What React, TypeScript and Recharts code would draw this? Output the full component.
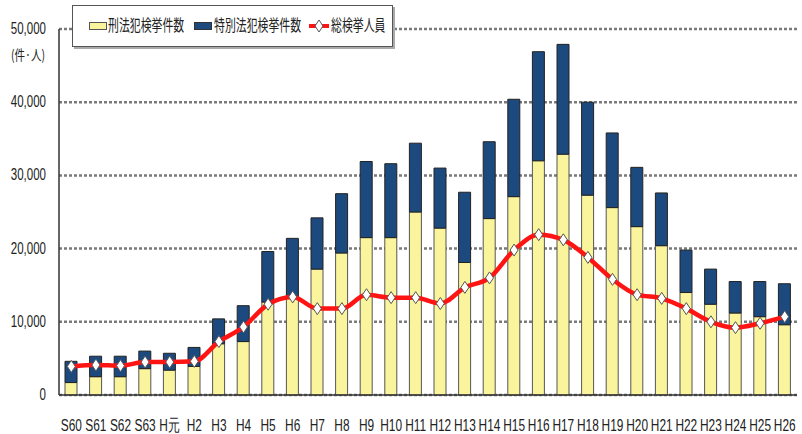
import React from "react";
import { ComposedChart, Bar, Line, XAxis, YAxis, CartesianGrid } from "recharts";

const years = [
  "S60", "S61", "S62", "S63", "H元", "H2", "H3", "H4", "H5", "H6",
  "H7", "H8", "H9", "H10", "H11", "H12", "H13", "H14", "H15", "H16",
  "H17", "H18", "H19", "H20", "H21", "H22", "H23", "H24", "H25", "H26",
];

// 刑法犯検挙件数
const penalCases = [
  1700, 2500, 2500, 3600, 3400, 3900, 7000, 7300, 12700, 13400,
  17200, 19400, 21500, 21500, 25000, 22800, 18100, 24100, 27100, 32000,
  32900, 27300, 25600, 23000, 20400, 14000, 12400, 11200, 10700, 9600,
];

// 特別法犯検挙件数
const specialCases = [
  2900, 2800, 2800, 2400, 2300, 2600, 3400, 4900, 6900, 8000,
  7000, 8100, 10400, 10100, 9400, 8200, 9600, 10500, 13300, 14900,
  15000, 12700, 10200, 8100, 7200, 5800, 4800, 4300, 4800, 5600,
];

// 総検挙人員
const persons = [
  3900, 4100, 4000, 4500, 4500, 4600, 7300, 9300, 12400, 13400,
  11800, 11800, 13700, 13300, 13300, 12500, 14700, 16000, 19800, 21900,
  21200, 18800, 15800, 13700, 13200, 11800, 10000, 9200, 9800, 10700,
];

const yTicks = [0, 10000, 20000, 30000, 40000, 50000];

const data = years.map((y, i) => ({
  year: y,
  penal: penalCases[i],
  special: specialCases[i],
  persons: persons[i],
}));

const YELLOW = "#FAF59C";
const NAVY = "#1D4A7E";
const RED = "#FF1414";
const numFont = "'Liberation Sans', 'DejaVu Sans', sans-serif";
const jpFont = "'Noto Sans CJK JP', sans-serif";

const YTick = (props: any) => {
  const { x, y, payload } = props;
  const v = payload.value as number;
  return (
    <g>
      <text
        transform={`translate(${x - 5},${y + 5}) scale(0.72,1)`}
        textAnchor="end"
        fontSize={16}
        fontFamily={numFont}
        fill="#222"
      >
        {v.toLocaleString("en-US")}
      </text>
      {v === 50000 && (
        <text
          transform={`translate(${x - 6},${y + 31}) scale(0.75,1)`}
          textAnchor="end"
          fontSize={14}
          fontFamily={jpFont}
          fill="#222"
        >
          (件·人)
        </text>
      )}
    </g>
  );
};

const XTick = (props: any) => {
  const { x, y, payload } = props;
  return (
    <text
      transform={`translate(${x},${y + 28}) scale(0.7,1)`}
      textAnchor="middle"
      fontSize={17}
      fontFamily={numFont}
      fill="#222"
    >
      {payload.value}
    </text>
  );
};

const Diamond = (props: any) => {
  const { cx, cy, index } = props;
  if (cx == null || cy == null) return <g key={index} />;
  return (
    <polygon
      key={index}
      points={`${cx},${cy - 6} ${cx + 4},${cy} ${cx},${cy + 6} ${cx - 4},${cy}`}
      fill="#fff"
      stroke="#555"
      strokeWidth={1}
    />
  );
};

const textStyle: React.CSSProperties = {
  position: "absolute",
  top: 7,
  fontFamily: jpFont,
  fontSize: 16,
  color: "#222",
  whiteSpace: "nowrap",
  transform: "scaleX(0.68)",
  transformOrigin: "left center",
  lineHeight: "22px",
};

const LegendBox = () => (
  <div
    style={{
      position: "absolute",
      left: 72,
      top: 5,
      width: 321,
      height: 42,
      background: "#fff",
      border: "1px solid #555",
      boxShadow: "2px 2px 0 #aaa",
      boxSizing: "border-box",
    }}
  >
    <div style={{ position: "absolute", left: 16, top: 16, width: 18, height: 8, background: YELLOW, border: "1px solid #555", boxSizing: "border-box" }} />
    <div style={{ ...textStyle, left: 35 }}>刑法犯検挙件数</div>
    <div style={{ position: "absolute", left: 121, top: 16, width: 18, height: 8, background: NAVY, border: "1px solid #333", boxSizing: "border-box" }} />
    <div style={{ ...textStyle, left: 141 }}>特別法犯検挙件数</div>
    <div style={{ position: "absolute", left: 236, top: 18, width: 20, height: 4, background: RED }} />
    <svg style={{ position: "absolute", left: 241, top: 13 }} width={10} height={14}>
      <polygon points="5,1 9,7 5,13 1,7" fill="#fff" stroke="#555" strokeWidth={1} />
    </svg>
    <div style={{ ...textStyle, left: 258 }}>総検挙人員</div>
  </div>
);

export default function App() {
  return (
    <div style={{ position: "absolute", left: 0, top: 0, width: 802, height: 434, background: "#fff" }}>
      <ComposedChart
        width={802}
        height={434}
        data={data}
        margin={{ top: 29, right: 5, left: 0, bottom: 0 }}
        barSize={12}
      >
        <CartesianGrid vertical={false} stroke="#7a7a7a" strokeDasharray="3 2" strokeWidth={2.5} />
        <XAxis
          dataKey="year"
          height={39}
          tickLine={false}
          axisLine={{ stroke: "#333", strokeWidth: 1.5 }}
          tick={<XTick />}
          interval={0}
        />
        <YAxis
          width={59}
          domain={[0, 50000]}
          ticks={yTicks}
          tickLine={false}
          axisLine={{ stroke: "#333", strokeWidth: 1.5 }}
          tick={<YTick />}
          interval={0}
        />
        <YAxis
          yAxisId="r"
          orientation="right"
          width={0}
          domain={[0, 50000]}
          tick={false}
          tickLine={false}
          axisLine={{ stroke: "#444", strokeWidth: 1.5 }}
        />
        <Bar dataKey="penal" stackId="a" fill={YELLOW} stroke="#555" strokeWidth={1} isAnimationActive={false} />
        <Bar dataKey="special" stackId="a" fill={NAVY} stroke="#222" strokeWidth={1} isAnimationActive={false} />
        <Line
          type="monotone"
          dataKey="persons"
          stroke={RED}
          strokeWidth={4.5}
          dot={Diamond}
          activeDot={false}
          isAnimationActive={false}
        />
      </ComposedChart>
      <LegendBox />
    </div>
  );
}
